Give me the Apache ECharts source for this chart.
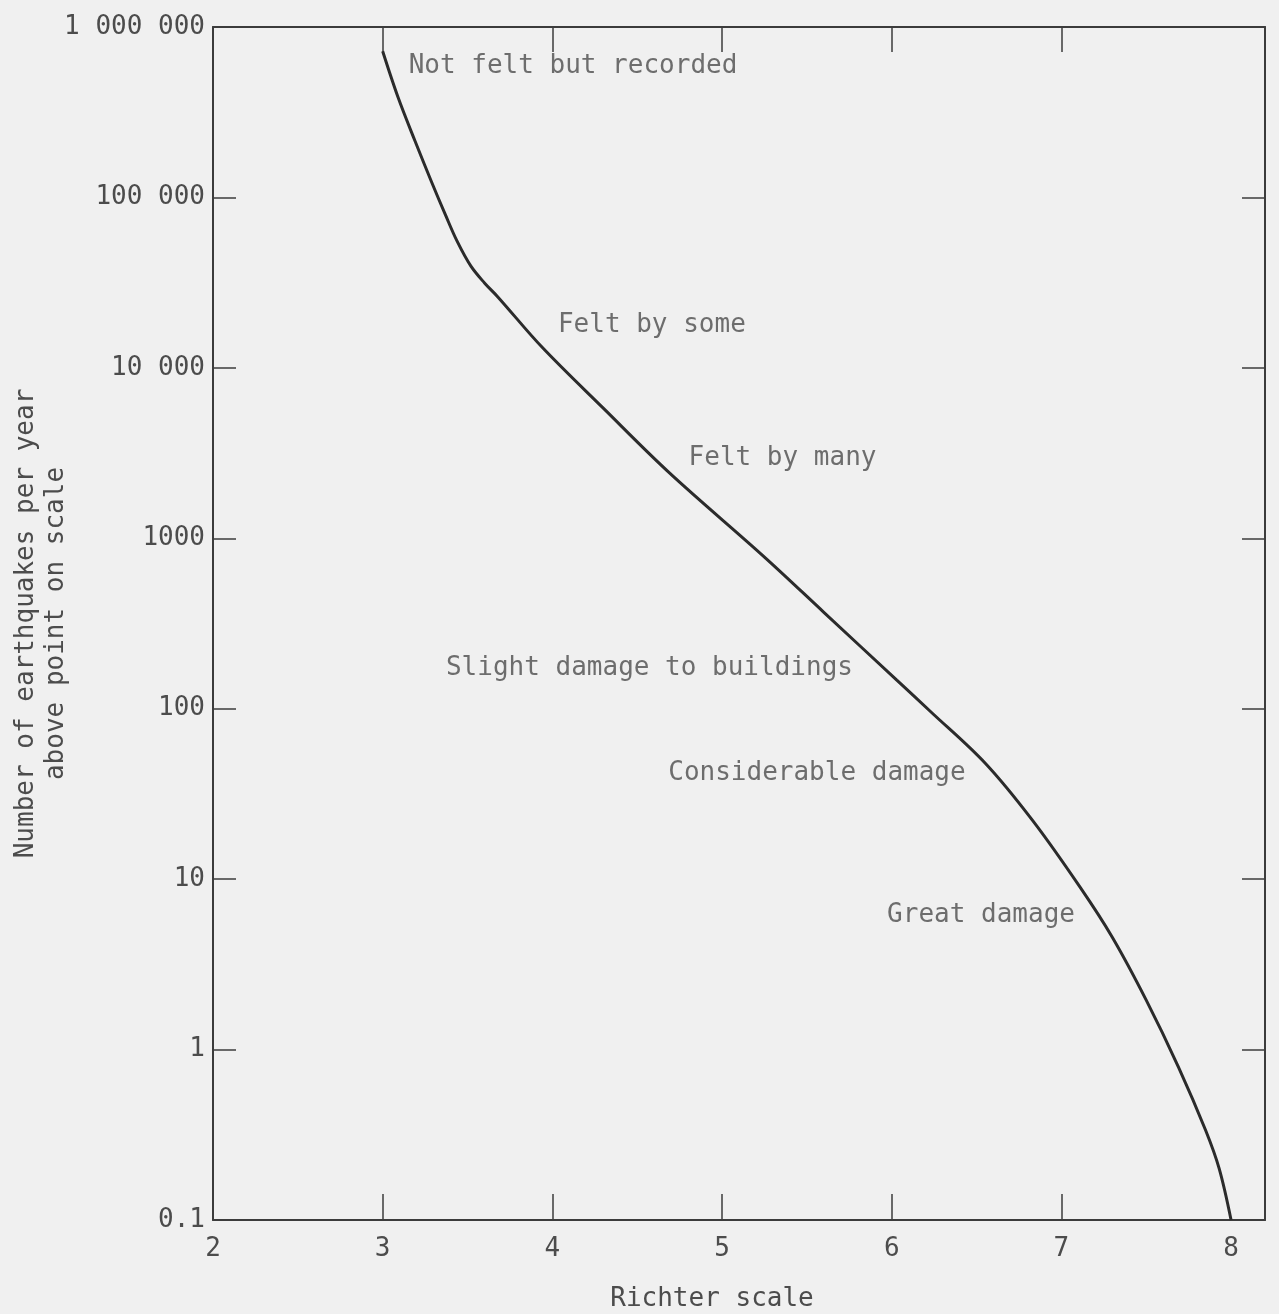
<!DOCTYPE html>
<html>
<head>
<meta charset="utf-8">
<script src="https://cdn.jsdelivr.net/npm/echarts@6/dist/echarts.min.js"></script>
<style>
  html, body { margin: 0; padding: 0; background: #f0f0f0; }
  #chart { width: 1279px; height: 1314px; }
</style>
</head>
<body>
<div id="chart"></div>
<script>
// Richter magnitude (x) and number of earthquakes per year above that magnitude (y)
const magnitude = [3.0, 3.09, 3.19, 3.29, 3.37, 3.44, 3.52, 3.60, 3.68, 3.94, 4.3, 4.69, 5.25, 5.6, 6.03, 6.23, 6.55, 6.83, 7.11, 7.3, 7.5, 7.69, 7.85, 7.93, 8.0];
const quakesPerYear = [720000, 388000, 215000, 122000, 79000, 55000, 39500, 31500, 26000, 13200, 5800, 2420, 776, 368, 147, 96, 48, 22.1, 8.97, 4.56, 1.95, 0.79, 0.336, 0.2, 0.1];

// Axis ticks and labels
const xLabelValues = [2, 3, 4, 5, 6, 7, 8];
const xTickValues = [3, 4, 5, 6, 7];
const yTickValues = [0.1, 1, 10, 100, 1000, 10000, 100000, 1000000];
const yTickLabels = ['0.1', '1', '10', '100', '1000', '10 000', '100 000', '1 000 000'];

// Annotations (text, anchor magnitude, anchor count)
const noteText = ['Not felt but recorded', 'Felt by some', 'Felt by many', 'Slight damage to buildings', 'Considerable damage', 'Great damage'];
const noteX = [3.15, 4.03, 4.80, 3.37, 4.68, 5.97];
const noteY = [590000, 17800, 2960, 173, 41.9, 6.15];

const MONO = '"DejaVu Sans Mono", "Liberation Mono", monospace';
const TXT = '#4c4c4c';
const AX = '#3c3c3c';

const chart = echarts.init(document.getElementById('chart'), null, { renderer: 'canvas' });

const axisLineStyle = { color: AX, width: 2 };

const option = {
  backgroundColor: '#f0f0f0',
  animation: false,
  grid: { left: 213, top: 27, right: 14, bottom: 94, containLabel: false, outerBoundsMode: 'none' },
  xAxis: [
    {
      type: 'value', min: 2, max: 8.2, position: 'bottom',
      axisLine: { show: true, lineStyle: axisLineStyle },
      axisTick: { show: true, inside: true, length: 26, customValues: xTickValues, lineStyle: { color: AX, width: 1.5 } },
      axisLabel: { customValues: xLabelValues, fontFamily: MONO, fontSize: 26, color: TXT, margin: 16 },
      splitLine: { show: false },
      name: 'Richter scale', nameLocation: 'middle', nameGap: 66, nameMoveOverlap: false,
      nameTextStyle: { fontFamily: MONO, fontSize: 26, color: TXT, padding: [0, 54, 0, 0] }
    },
    {
      type: 'value', min: 2, max: 8.2, position: 'top',
      axisLine: { show: true, lineStyle: axisLineStyle },
      axisTick: { show: true, inside: true, length: 25, customValues: xTickValues, lineStyle: { color: AX, width: 1.5 } },
      axisLabel: { show: false },
      splitLine: { show: false }
    }
  ],
  yAxis: [
    {
      type: 'log', logBase: 10, min: 0.1, max: 1000000, position: 'left',
      axisLine: { show: true, lineStyle: axisLineStyle },
      axisTick: { show: true, inside: true, length: 23, customValues: yTickValues, lineStyle: { color: AX, width: 1.5 } },
      axisLabel: {
        customValues: yTickValues, fontFamily: MONO, fontSize: 26, color: TXT, margin: 8,
        formatter: function (v) { return yTickLabels[Math.round(Math.log10(v)) + 1]; }
      },
      splitLine: { show: false },
      name: 'Number of earthquakes per year\nabove point on scale',
      nameLocation: 'middle', nameRotate: 90, nameGap: 142, nameMoveOverlap: false,
      nameTextStyle: { fontFamily: MONO, fontSize: 26, color: TXT, lineHeight: 30, align: 'center' }
    },
    {
      type: 'log', logBase: 10, min: 0.1, max: 1000000, position: 'right',
      axisLine: { show: true, lineStyle: axisLineStyle },
      axisTick: { show: true, inside: true, length: 23, customValues: yTickValues, lineStyle: { color: AX, width: 1.5 } },
      axisLabel: { show: false },
      splitLine: { show: false }
    }
  ],
  series: [
    {
      type: 'line', xAxisIndex: 0, yAxisIndex: 0,
      data: magnitude.map((m, i) => [m, quakesPerYear[i]]),
      smooth: 0.35, showSymbol: false, symbol: 'none',
      lineStyle: { color: '#2b2b2b', width: 3 }
    },
    {
      type: 'scatter', xAxisIndex: 0, yAxisIndex: 0,
      symbolSize: 1, itemStyle: { color: 'rgba(0,0,0,0)' },
      data: noteText.map((t, i) => ({ name: t, value: [noteX[i], noteY[i]] })),
      label: {
        show: true, position: 'right', distance: 0, formatter: '{b}',
        fontFamily: MONO, fontSize: 26, color: TXT
      },
      silent: true
    }
  ]
};

chart.setOption(option);
</script>
</body>
</html>
